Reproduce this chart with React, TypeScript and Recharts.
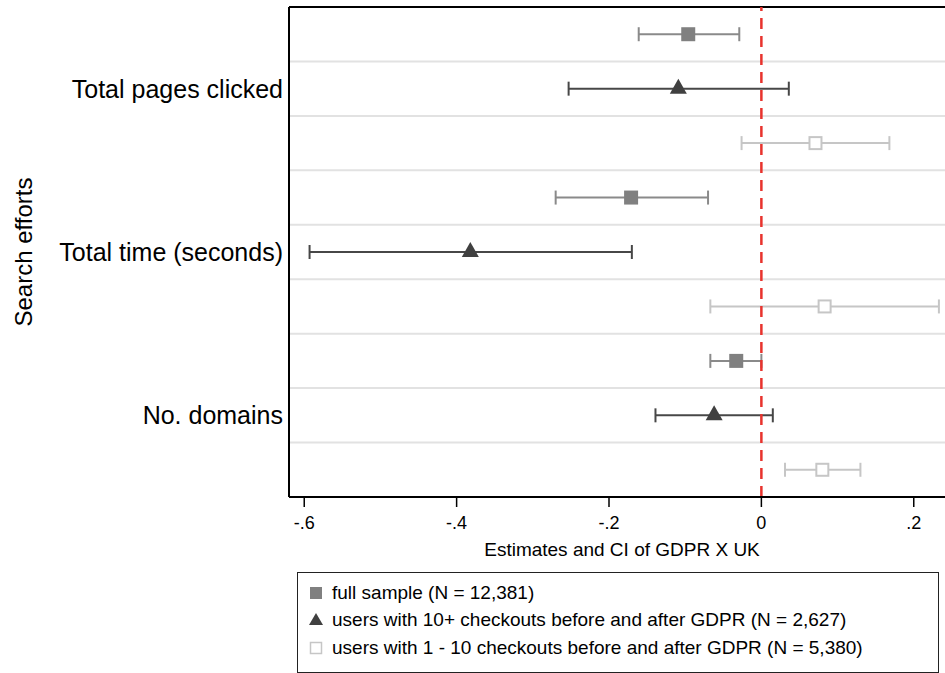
import React from 'react';
import {
  ScatterChart,
  Scatter,
  XAxis,
  YAxis,
  CartesianGrid,
  ErrorBar,
  ReferenceLine,
  Legend,
} from 'recharts';

const outcomes = ['Total pages clicked', 'Total time (seconds)', 'No. domains'];

const seriesNames = [
  'full sample (N = 12,381)',
  'users with 10+ checkouts before and after GDPR (N = 2,627)',
  'users with 1 - 10 checkouts before and after GDPR (N = 5,380)',
];

// point estimates and CI bounds, one value per outcome
const fullEst = [-0.096, -0.171, -0.033];
const fullLow = [-0.161, -0.270, -0.067];
const fullHigh = [-0.029, -0.070, 0.0];

const heavyEst = [-0.109, -0.382, -0.062];
const heavyLow = [-0.253, -0.593, -0.139];
const heavyHigh = [0.036, -0.170, 0.015];

const lightEst = [0.071, 0.083, 0.080];
const lightLow = [-0.026, -0.067, 0.031];
const lightHigh = [0.168, 0.233, 0.130];

const xTicks = [-0.6, -0.4, -0.2, 0, 0.2];

const FONT = '"Liberation Sans", Arial, Helvetica, sans-serif';
const FULL_COLOR = '#808080';
const HEAVY_COLOR = '#404040';
const LIGHT_COLOR = '#c6c6c6';

const buildRows = (est: number[], low: number[], high: number[], slot: number) =>
  outcomes.map((name, i) => ({
    name,
    est: est[i],
    row: i * 3 + slot + 0.5,
    err: [est[i] - low[i], high[i] - est[i]],
  }));

const fullData = buildRows(fullEst, fullLow, fullHigh, 0);
const heavyData = buildRows(heavyEst, heavyLow, heavyHigh, 1);
const lightData = buildRows(lightEst, lightLow, lightHigh, 2);

const rowTicks = outcomes.map((_, i) => i * 3 + 1.5);
const rowBounds = [1, 2, 3, 4, 5, 6, 7, 8];

const fmtTick = (v: number) => {
  if (v === 0) return '0';
  const s = String(Math.abs(v)).replace(/^0/, '');
  return (v < 0 ? '-' : '') + s;
};

const FilledSquare = (p: any) => (
  <rect x={p.cx - 7} y={p.cy - 7} width={14} height={14} fill={FULL_COLOR} />
);

const Triangle = (p: any) => (
  <polygon
    points={`${p.cx},${p.cy - 10} ${p.cx + 8.5},${p.cy + 5} ${p.cx - 8.5},${p.cy + 5}`}
    fill={HEAVY_COLOR}
  />
);

const HollowSquare = (p: any) => (
  <rect
    x={p.cx - 6}
    y={p.cy - 6}
    width={12}
    height={12}
    fill="#fff"
    stroke={LIGHT_COLOR}
    strokeWidth={2}
  />
);

function LegendBox() {
  const markers = [
    <rect key="a" x={12} y={7} width={12} height={12} fill={FULL_COLOR} />,
    <polygon key="b" points="18,6 25,18 11,18" fill={HEAVY_COLOR} />,
    <rect key="c" x={12.5} y={7.5} width={11} height={11} fill="#fff" stroke={LIGHT_COLOR} strokeWidth={1.5} />,
  ];
  return (
    <div
      style={{
        boxSizing: 'border-box',
        width: 642,
        height: 101,
        border: '1.5px solid #222',
        paddingTop: 6,
        fontFamily: FONT,
        fontSize: 19,
        color: '#000',
        background: '#fff',
      }}
    >
      {seriesNames.map((n, i) => (
        <div key={n} style={{ display: 'flex', alignItems: 'center', height: 27.5 }}>
          <svg width={34} height={26} style={{ flexShrink: 0 }}>
            {markers[i]}
          </svg>
          <span style={{ whiteSpace: 'nowrap' }}>{n}</span>
        </div>
      ))}
    </div>
  );
}

export default function App() {
  return (
    <div style={{ width: 945, height: 673, fontFamily: FONT, background: '#fff' }}>
      <style>{'body{margin:0}'}</style>
      <ScatterChart width={945} height={673} margin={{ top: 7, right: 0, bottom: 116, left: 0 }}>
        <CartesianGrid
          vertical={false}
          horizontalValues={rowBounds}
          stroke="#e2e2e2"
          strokeWidth={2}
        />
        <XAxis
          type="number"
          dataKey="est"
          domain={[-0.62, 0.241]}
          allowDataOverflow
          ticks={xTicks}
          interval={0}
          tickFormatter={fmtTick}
          height={60}
          tickSize={10}
          tickMargin={9}
          axisLine={{ stroke: '#000', strokeWidth: 2 }}
          tickLine={{ stroke: '#000', strokeWidth: 1.5 }}
          tick={{ fill: '#000', fontSize: 18, fontFamily: FONT }}
          label={{
            content: ({ viewBox }: any) => (
              <text
                x={viewBox.x + viewBox.width / 2 + 5}
                y={viewBox.y + 59}
                textAnchor="middle"
                fontSize={19}
                fontFamily={FONT}
                fill="#000"
              >
                Estimates and CI of GDPR X UK
              </text>
            ),
          }}
        />
        <YAxis
          type="number"
          dataKey="row"
          domain={[0, 9]}
          reversed
          ticks={rowTicks}
          interval={0}
          tickFormatter={(v: number) => outcomes[Math.round((v - 1.5) / 3)]}
          width={289}
          tickLine={false}
          tickSize={6}
          tickMargin={0}
          axisLine={{ stroke: '#000', strokeWidth: 2 }}
          tick={{ fill: '#000', fontSize: 25, fontFamily: FONT }}
          label={{
            content: ({ viewBox }: any) => {
              const cy = viewBox.y + viewBox.height / 2;
              return (
                <text
                  x={32}
                  y={cy}
                  transform={`rotate(-90, 32, ${cy})`}
                  textAnchor="middle"
                  fontSize={24}
                  fontFamily={FONT}
                  fill="#000"
                >
                  Search efforts
                </text>
              );
            },
          }}
        />
        <ReferenceLine y={0} stroke="#000" strokeWidth={2} />
        <Scatter name={seriesNames[0]} data={fullData} shape={FilledSquare} isAnimationActive={false}>
          <ErrorBar dataKey="err" direction="x" width={7} stroke="#8a8a8a" strokeWidth={2} />
        </Scatter>
        <Scatter name={seriesNames[1]} data={heavyData} shape={Triangle} isAnimationActive={false}>
          <ErrorBar dataKey="err" direction="x" width={7} stroke="#474747" strokeWidth={2} />
        </Scatter>
        <Scatter name={seriesNames[2]} data={lightData} shape={HollowSquare} isAnimationActive={false}>
          <ErrorBar dataKey="err" direction="x" width={7} stroke={LIGHT_COLOR} strokeWidth={2} />
        </Scatter>
        <ReferenceLine x={0} stroke="#e8332d" strokeWidth={2.5} strokeDasharray="11 7" />
        <Legend
          verticalAlign="middle"
          align="center"
          content={() => <LegendBox />}
          wrapperStyle={{ position: 'absolute', left: 297, top: 572, width: 642, height: 101 }}
        />
      </ScatterChart>
    </div>
  );
}
